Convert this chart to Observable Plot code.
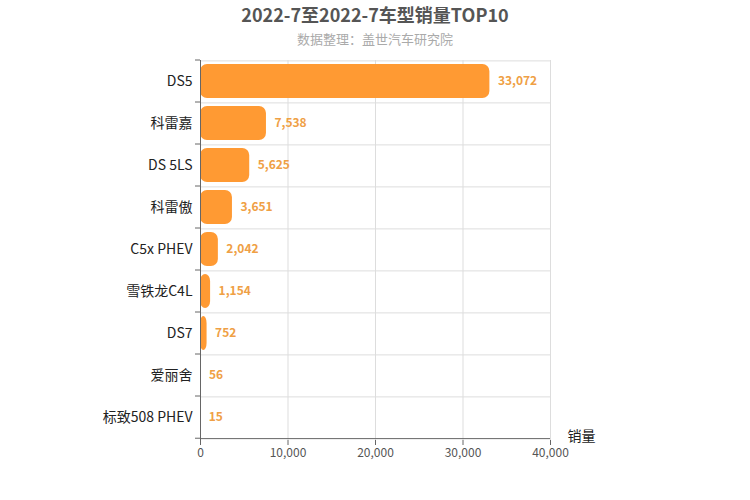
<!DOCTYPE html>
<html><head><meta charset="utf-8">
<script src="https://cdn.jsdelivr.net/npm/d3@7"></script>
<script src="https://cdn.jsdelivr.net/npm/@observablehq/plot@0.6"></script>
<style>
body{margin:0;background:#fff;font-family:"Noto Sans CJK SC","Noto Sans",sans-serif;}
#wrap{width:750px;}
#title{height:28px;line-height:28px;text-align:center;font-size:18px;font-weight:bold;color:#555;}
#sub{height:22px;line-height:22px;text-align:center;font-size:13px;color:#aaa;}
svg{display:block;}
</style></head>
<body><div id="wrap"><div id="title">2022-7至2022-7车型销量TOP10</div><div id="sub">数据整理：盖世汽车研究院</div><div id="chart"></div></div>
<script>
const models = ["DS5","科雷嘉","DS 5LS","科雷傲","C5x PHEV","雪铁龙C4L","DS7","爱丽舍","标致508 PHEV"];
const sales = [33072,7538,5625,3651,2042,1154,752,56,15];
const xTicks = [0,10000,20000,30000,40000];
const data = models.map((m,i)=>({model:m, value:sales[i]}));

const H = 450, mTop = 10, mBottom = 60;
const step = (H - mTop - mBottom) / models.length;
const fmt = d3.format(",");

const boundaryTicks = (index, scales, values, dims) => {
  const g = d3.create("svg:g");
  const ys = models.map(m => scales.y(m)).concat([scales.y(models[models.length-1]) + step]);
  for (const y of ys) {
    g.append("line").attr("x1", dims.marginLeft - 5).attr("x2", dims.marginLeft)
      .attr("y1", y).attr("y2", y).attr("stroke", "#666");
  }
  return g.node();
};

const chart = Plot.plot({
  width: 750, height: H,
  marginLeft: 200, marginRight: 200, marginTop: mTop, marginBottom: mBottom,
  style: {fontFamily: '"Noto Sans CJK SC","Noto Sans",sans-serif', background: "#fff"},
  x: {domain: [0, 40000], ticks: xTicks},
  y: {domain: models, padding: 0, align: 0},
  marks: [
    Plot.ruleX(xTicks, {stroke: "#ddd"}),
    Plot.ruleY(models, {y: d => d, dy: -step/2 + 0.5, stroke: "#ddd"}),
    Plot.barX(data, {y: "model", x: "value", fill: "#FF9A33", insetTop: 4, insetBottom: 4, rx: 7}),
    Plot.text(data, {y: "model", x: "value", text: d => fmt(d.value), dx: 8, textAnchor: "start", fill: "#EFA045", fontSize: 12, fontWeight: 600}),
    Plot.ruleX([0], {stroke: "#666"}),
    Plot.ruleY([0], {y: () => models[models.length-1], dy: step/2, stroke: "#666"}),
    boundaryTicks,
    Plot.axisX({ticks: xTicks, tickFormat: fmt, tickSize: 5, stroke: "#666", color: "#555", fontSize: 12, label: null, tickPadding: 3}),
    Plot.axisY({tickSize: 0, tickPadding: 8, fontSize: 14, color: "#222", label: null}),
    Plot.text(["销量"], {frameAnchor: "bottom-right", dx: 45, dy: 0, fontSize: 14, fill: "#222", textAnchor: "end"})
  ]
});
document.getElementById("chart").appendChild(chart);
</script>
</body></html>
